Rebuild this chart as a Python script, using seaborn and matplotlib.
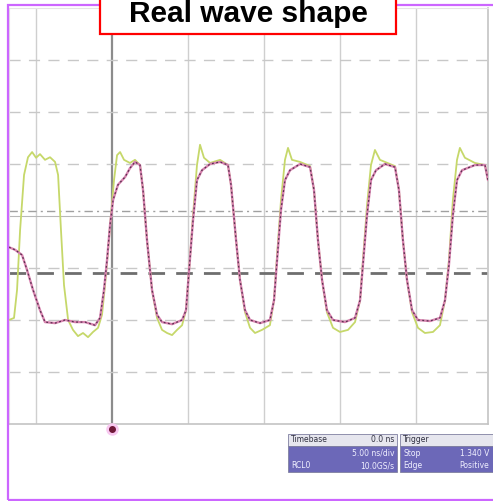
import matplotlib
matplotlib.use("Agg")
import matplotlib.pyplot as plt
import seaborn as sns
import pandas as pd
from matplotlib.patches import Rectangle

# Scope capture: 5 ns/div timebase, amplitude in divisions
# CH2 (pink / purple trace)
ch2_t = [-6.78, -6.38, -5.92, -5.59, -5.20, -4.74, -4.41, -3.75, -3.09, -2.43,
         -1.78, -1.12, -0.79, -0.53, -0.33, -0.13, 0.07, 0.39, 0.86, 1.18,
         1.51, 1.84, 2.04, 2.30, 2.63, 2.96, 3.29, 3.95, 4.61, 4.87,
         5.07, 5.33, 5.59, 5.92, 6.45, 7.11, 7.63, 7.83, 8.16, 8.42,
         8.75, 9.08, 9.74, 10.39, 10.66, 10.86, 11.12, 11.38, 11.71, 12.37,
         13.03, 13.29, 13.55, 13.82, 14.14, 14.54, 15.33, 15.99, 16.32, 16.51,
         16.78, 17.04, 17.37, 17.96, 18.62, 18.88, 19.14, 19.41, 19.74, 20.13,
         20.92, 21.58, 21.91, 22.17, 22.43, 22.70, 23.03, 23.88, 24.54, 24.74]
ch2_v = [-0.60, -0.65, -0.75, -1.04, -1.42, -1.81, -2.04, -2.06, -2.00, -2.04,
         -2.04, -2.10, -1.96, -1.42, -0.85, -0.17, 0.31, 0.60, 0.75, 0.92,
         1.04, 0.98, 0.50, -0.46, -1.42, -1.90, -2.04, -2.08, -2.00, -1.81,
         -1.04, -0.08, 0.69, 0.88, 1.00, 1.04, 0.98, 0.60, -0.46, -1.23,
         -1.81, -2.00, -2.06, -2.00, -1.62, -0.85, 0.12, 0.69, 0.88, 1.00,
         0.94, 0.50, -0.46, -1.23, -1.81, -2.00, -2.04, -1.96, -1.62, -0.94,
         0.02, 0.69, 0.88, 1.00, 0.94, 0.50, -0.46, -1.23, -1.81, -2.00,
         -2.02, -1.96, -1.62, -0.94, 0.02, 0.69, 0.88, 0.98, 0.98, 0.69]

# CH1 (yellow-green trace)
ch1_t = [-6.78, -6.45, -6.25, -6.05, -5.79, -5.53, -5.26, -5.00, -4.74, -4.41,
         -4.08, -3.75, -3.55, -3.36, -3.16, -2.89, -2.57, -2.24, -1.91, -1.58,
         -1.25, -0.92, -0.66, -0.46, -0.26, -0.07, 0.13, 0.33, 0.53, 0.79,
         1.18, 1.51, 1.84, 2.04, 2.30, 2.63, 2.96, 3.29, 3.62, 3.95,
         4.28, 4.61, 4.87, 5.07, 5.33, 5.59, 5.79, 6.05, 6.45, 7.11,
         7.63, 7.83, 8.16, 8.42, 8.75, 9.08, 9.41, 9.87, 10.39, 10.66,
         10.86, 11.12, 11.38, 11.58, 11.84, 12.37, 13.03, 13.29, 13.55, 13.82,
         14.14, 14.54, 15.00, 15.53, 15.99, 16.32, 16.51, 16.78, 17.04, 17.30,
         17.63, 17.96, 18.62, 18.88, 19.14, 19.41, 19.74, 20.13, 20.59, 21.12,
         21.58, 21.91, 22.17, 22.43, 22.70, 22.89, 23.22, 23.88, 24.54, 24.74]
ch1_v = [-2.00, -1.96, -1.42, -0.27, 0.79, 1.13, 1.23, 1.12, 1.19, 1.08,
         1.13, 1.04, 0.79, -0.27, -1.33, -2.00, -2.19, -2.31, -2.25, -2.33,
         -2.23, -2.15, -1.90, -1.33, -0.65, 0.02, 0.69, 1.17, 1.23, 1.08,
         1.02, 1.08, 0.98, 0.50, -0.46, -1.42, -1.96, -2.19, -2.25, -2.29,
         -2.19, -2.10, -1.81, -1.04, 0.02, 0.98, 1.37, 1.12, 1.02, 1.08,
         0.98, 0.60, -0.46, -1.23, -1.85, -2.15, -2.25, -2.19, -2.10, -1.62,
         -0.75, 0.31, 1.08, 1.31, 1.08, 1.04, 0.96, 0.50, -0.46, -1.23,
         -1.85, -2.15, -2.23, -2.19, -2.04, -1.62, -0.85, 0.21, 0.98, 1.27,
         1.08, 1.04, 0.96, 0.50, -0.46, -1.23, -1.85, -2.15, -2.25, -2.23,
         -2.10, -1.62, -0.85, 0.31, 1.08, 1.31, 1.12, 1.02, 0.98, 0.69]

grid_t = [-5, 0, 5, 10, 15, 20]
grid_v = [-3, -2, -1, 1, 2, 3]
trig_level = -1.1
ref_level = 0.1

timebase_rows = [("Timebase", "0.0 ns"), ("", "5.00 ns/div"), ("RCL0", "10.0GS/s")]
trigger_rows = [("Trigger", ""), ("Stop", "1.340 V"), ("Edge", "Positive")]

ch1 = pd.DataFrame({"t": ch1_t, "v": ch1_v})
ch2 = pd.DataFrame({"t": ch2_t, "v": ch2_v})

sns.set_style("white")
W, H = 493, 501
fig = plt.figure(figsize=(W / 100, H / 100), dpi=100)
ax = fig.add_axes([9 / W, 1 - 424 / H, 479 / W, 416 / H])
ax.set_xlim(-6.78, 24.74)
ax.set_ylim(-4, 4)

# graticule
for t in grid_t:
    if t == 0:
        ax.axvline(t, color="#8c8c8c", lw=1.6, zorder=1)
    else:
        ax.axvline(t, color="#cfcfcf", lw=1.0, zorder=1)
for v in grid_v:
    ax.axhline(v, color="#c8c8c8", lw=1.0, ls=(0, (8, 6)), zorder=1)
ax.axhline(0, color="#b8b8b8", lw=0.8, zorder=1)
ax.axhline(ref_level, color="#a0a0a0", lw=1.0, ls=(0, (6, 3, 1.5, 3)), zorder=1)
ax.axhline(trig_level, color="#6e6e6e", lw=2.0, ls=(0, (6, 4)), zorder=2)

sns.lineplot(data=ch1, x="t", y="v", sort=False, estimator=None,
             color="#c6d86a", lw=1.3, ax=ax, zorder=3)
sns.lineplot(data=ch2, x="t", y="v", sort=False, estimator=None,
             color="#d884b0", lw=1.7, ax=ax, zorder=4)
sns.lineplot(data=ch2, x="t", y="v", sort=False, estimator=None,
             color="#5a3050", lw=0.9, ls=(0, (1.5, 2)), ax=ax, zorder=5)

ax.set_xticks([])
ax.set_yticks([])
ax.set_xlabel("")
ax.set_ylabel("")
for side in ["top", "left"]:
    ax.spines[side].set_color("#e4e4e4")
for side in ["bottom", "right"]:
    ax.spines[side].set_color("#c4c4c4")
    ax.spines[side].set_linewidth(1.2)

# trigger position marker
ax.plot([0], [-4.1], marker="o", ms=8, color="#f8c8f0", clip_on=False, zorder=6)
ax.plot([0], [-4.1], marker="o", ms=4, color="#701838", clip_on=False, zorder=7)

# outer magenta frame
fig.patches.append(Rectangle((7.5 / W, 1.5 / H), 1.0, 1 - 6 / H, transform=fig.transFigure,
                             fill=False, edgecolor="#cc66ff", lw=1.6))

# title box
fig.patches.append(Rectangle((100 / W, 1 - 34 / H), 296 / W, 42 / H, transform=fig.transFigure,
                             facecolor="white", edgecolor="#ff0000", lw=1.6, zorder=10))
fig.text(248 / W, 1 - 22.5 / H, "Real wave shape", ha="center", va="baseline",
         fontsize=21.5, fontweight="bold", family="Liberation Sans",
         color="black", zorder=11)


def readout(x0, x1, rows):
    top = 434
    fig.patches.append(Rectangle((x0 / W, 1 - 446 / H), (x1 - x0) / W, 12 / H,
                                 transform=fig.transFigure, facecolor="#e6e6ee",
                                 edgecolor="#8080a0", lw=0.6))
    fig.patches.append(Rectangle((x0 / W, 1 - 472 / H), (x1 - x0) / W, 26 / H,
                                 transform=fig.transFigure, facecolor="#6c68b8",
                                 edgecolor="#8080a0", lw=0.6))
    x_right = min(x1, W - 1) - 3
    for i, (left, right) in enumerate(rows):
        y = top + 6 + i * 13
        col = "#303040" if i == 0 else "#f0f0ff"
        fig.text((x0 + 3) / W, 1 - y / H, left, ha="left", va="center",
                 fontsize=5.5, color=col)
        fig.text(x_right / W, 1 - y / H, right, ha="right", va="center",
                 fontsize=5.5, color=col)


readout(288, 397, timebase_rows)
readout(400, 500, trigger_rows)

fig.savefig("out.png", dpi=100)
